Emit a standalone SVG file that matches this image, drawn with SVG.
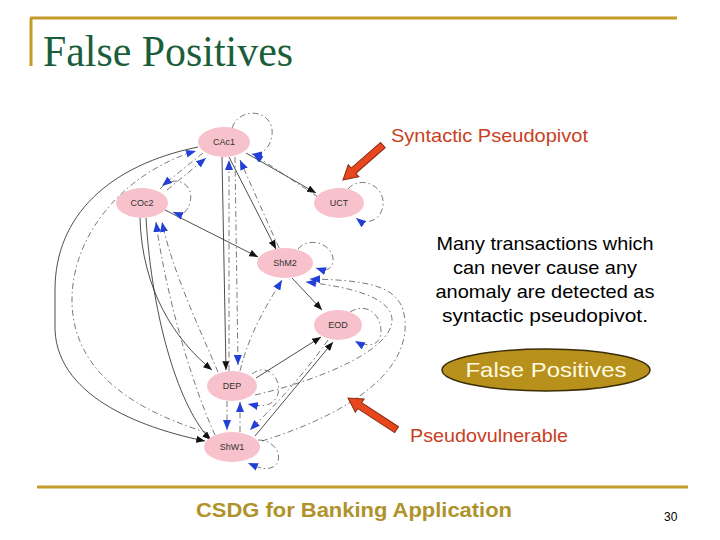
<svg xmlns="http://www.w3.org/2000/svg" width="720" height="540" viewBox="0 0 720 540">
<style>
.gold{stroke:#c49a28;stroke-width:3;fill:none}
.node ellipse{fill:#f7c2cb}
.node text{font-family:"Liberation Sans",Arial,sans-serif;font-size:9px;fill:#333;text-anchor:middle}
.s{fill:none;stroke:#222;stroke-width:0.8;marker-end:url(#ak)}
.d{fill:none;stroke:#555;stroke-width:0.8;stroke-dasharray:6 3 1.5 3;marker-end:url(#ab)}
.red{fill:#e8461c;stroke:#8a2a10;stroke-width:1}
.lbl{font-family:"Liberation Sans",Arial,sans-serif;font-size:19px;fill:#c8401e}
.body{font-family:"Liberation Sans",Arial,sans-serif;font-size:19px;fill:#000;text-anchor:middle}
</style>
<defs>
<marker id="ak" viewBox="0 0 10 8" refX="10" refY="4" markerWidth="9" markerHeight="7" markerUnits="userSpaceOnUse" orient="auto"><path d="M0,0 L10,4 L0,8 z" fill="#111"/></marker>
<marker id="ab" viewBox="0 0 10 8" refX="10" refY="4" markerWidth="10" markerHeight="8" markerUnits="userSpaceOnUse" orient="auto"><path d="M0,0 L10,4 L0,8 z" fill="#2140d8"/></marker>
</defs>
<rect width="720" height="540" fill="#fff"/>
<g id="frame">
<path class="gold" d="M30,18 H677 M31,18 V66"/>
<path class="gold" d="M37,487 H688"/>
</g>
<text x="43" y="66" font-family="Liberation Serif,'Times New Roman',serif" font-size="44" fill="#1a5e3a" textLength="250" lengthAdjust="spacingAndGlyphs">False Positives</text>
<g id="connectors">
<path class="s" d="M246,153 L316,193"/>
<path class="s" d="M229,157 L276,249"/>
<path class="s" d="M222,157 L226,370"/>
<path class="s" d="M165,210 L258,257"/>
<path class="s" d="M140,218 C142,290 175,340 212,370"/>
<path class="s" d="M146,218 C152,320 180,410 211,440"/>
<path class="s" d="M198,147 C110,165 55,215 55,290 L55,330 C58,400 150,430 205,441"/>
<path class="s" d="M292,278 L322,310"/>
<path class="s" d="M256,378 L321,337"/>
<path class="s" d="M255,436 L333,342"/>
<path class="d" d="M208,433 C150,415 72,380 72,300 C72,230 130,170 196,151"/>
<path class="d" d="M203,153 L162,186"/>
<path class="d" d="M167,190 L206,158"/>
<path class="d" d="M229,371 L229,160"/>
<path class="d" d="M235,157 L238,365"/>
<path class="d" d="M279,248 L240,160"/>
<path class="d" d="M318,197 L253,154"/>
<path class="d" d="M232,128 C240,105 275,110 272,135 C270,150 260,155 252,154"/>
<path class="d" d="M348,189 C360,175 385,185 383,205 C381,222 365,225 356,218"/>
<path class="d" d="M160,189 C175,172 195,185 190,202 C187,215 180,215 173,212"/>
<path class="d" d="M298,249 C310,235 335,245 333,262 C331,272 322,270 316,268"/>
<path class="d" d="M350,312 C370,300 385,320 380,338 C375,348 362,345 355,341"/>
<path class="d" d="M252,374 C270,360 285,385 276,398 C270,408 258,406 248,404"/>
<path class="d" d="M258,440 C280,440 285,465 270,468 C262,470 255,466 248,463"/>
<path class="d" d="M215,435 C190,380 165,290 156,222"/>
<path class="d" d="M218,372 C200,330 172,270 162,222"/>
<path class="d" d="M227,401 L227,430"/>
<path class="d" d="M240,432 L240,402"/>
<path class="d" d="M328,340 C300,380 270,410 250,430"/>
<path class="d" d="M262,441 C330,420 410,380 405,320 C402,290 380,280 310,279"/>
<path class="d" d="M255,395 C320,380 392,350 392,320 C392,300 360,288 306,282"/>
<path class="d" d="M240,371 C250,330 270,300 282,280"/>
</g>
<g id="CAc1" class="node"><ellipse cx="224" cy="142" rx="26" ry="15"/><text x="224" y="145">CAc1</text></g>
<g id="COc2" class="node"><ellipse cx="142" cy="203" rx="26" ry="15"/><text x="142" y="206">COc2</text></g>
<g id="UCT" class="node"><ellipse cx="339" cy="203" rx="25" ry="15"/><text x="339" y="206">UCT</text></g>
<g id="ShM2" class="node"><ellipse cx="285" cy="263" rx="28" ry="15"/><text x="285" y="266">ShM2</text></g>
<g id="EOD" class="node"><ellipse cx="338" cy="325" rx="24" ry="15"/><text x="338" y="328">EOD</text></g>
<g id="DEP" class="node"><ellipse cx="232" cy="386" rx="25" ry="15"/><text x="232" y="389">DEP</text></g>
<g id="ShW1" class="node"><ellipse cx="232" cy="447" rx="28" ry="15"/><text x="232" y="450">ShW1</text></g>
<g id="callouts">
<polygon class="red" transform="translate(343,180) rotate(138.8)" points="0,0 -14,-8 -14,-3.5 -53,-3.5 -53,3.5 -14,3.5 -14,8"/>
<polygon class="red" transform="translate(348,398) rotate(213.1)" points="0,0 -14,-8 -14,-3.5 -58,-3.5 -58,3.5 -14,3.5 -14,8"/>
<text class="lbl" x="391" y="142" textLength="197" lengthAdjust="spacingAndGlyphs">Syntactic Pseudopivot</text>
<text class="lbl" x="410" y="442" textLength="158" lengthAdjust="spacingAndGlyphs">Pseudovulnerable</text>
</g>
<g id="note">
<text class="body" x="545" y="250" textLength="217" lengthAdjust="spacingAndGlyphs">Many transactions which</text>
<text class="body" x="545" y="274" textLength="184" lengthAdjust="spacingAndGlyphs">can never cause any</text>
<text class="body" x="545" y="298" textLength="219" lengthAdjust="spacingAndGlyphs">anomaly are detected as</text>
<text class="body" x="545" y="322" textLength="206" lengthAdjust="spacingAndGlyphs">syntactic pseudopivot.</text>
</g>
<g id="fp">
<ellipse cx="546" cy="370" rx="104" ry="21" fill="#b8911c" stroke="#3a2c05" stroke-width="1.5"/>
<text x="546" y="377" font-family="Liberation Sans,Arial,sans-serif" font-size="21" fill="#fffbe0" text-anchor="middle" textLength="161" lengthAdjust="spacingAndGlyphs">False Positives</text>
</g>
<text x="354" y="517" font-family="Liberation Sans,Arial,sans-serif" font-size="20" font-weight="bold" fill="#b0922a" text-anchor="middle" textLength="316" lengthAdjust="spacingAndGlyphs">CSDG for Banking Application</text>
<text x="664" y="521" font-family="Liberation Sans,Arial,sans-serif" font-size="12" fill="#000">30</text>
</svg>
